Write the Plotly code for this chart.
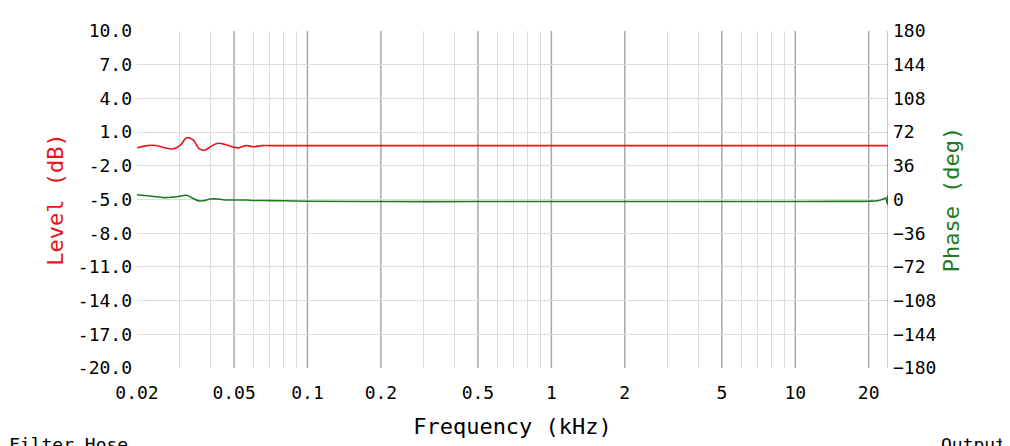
import plotly.graph_objects as go

# frequency in kHz
freq = [0.02, 0.022, 0.024, 0.026, 0.028, 0.030, 0.032, 0.034, 0.036, 0.038, 0.040, 0.043,
        0.046, 0.049, 0.052, 0.056, 0.060, 0.065, 0.070, 0.08, 0.1, 0.2, 0.5, 1, 2, 5, 10,
        15, 20, 22, 23, 23.5, 23.8, 23.9, 24.0]
level = [-0.4, -0.2, -0.2, -0.4, -0.5, -0.2, 0.5, 0.3, -0.5, -0.6, -0.3, 0.0,
         -0.1, -0.3, -0.4, -0.2, -0.3, -0.2, -0.2, -0.2, -0.2, -0.2, -0.2, -0.2, -0.2, -0.2, -0.2,
         -0.2, -0.2, -0.2, -0.2, -0.2, -0.2, -0.2, -0.2]
phase = [5.0, 4.0, 3.0, 2.0, 2.5, 3.5, 4.5, 1.0, -1.5, -1.0, 0.5, 0.5,
         -0.5, -0.5, -0.5, -0.5, -1.0, -1.0, -1.2, -1.4, -1.8, -2.2, -2.2, -2.2, -2.2, -2.2, -2.2,
         -2.0, -1.8, -1.0, 0.5, 1.5, -4.0, 4.0, -6.0]
# drop-outs at the band edge
edge_f = [24.0, 24.0]
edge_level = [-0.2, -20.0]
edge_phase = [0.0, 180.0]

major = [0.05, 0.1, 0.2, 0.5, 1, 2, 5, 10, 20]
tick_vals = [0.02, 0.05, 0.1, 0.2, 0.5, 1, 2, 5, 10, 20]
tick_text = ["0.02", "0.05", "0.1", "0.2", "0.5", "1", "2", "5", "10", "20"]
minor_vals = [m * d for d in (0.01, 0.1, 1, 10) for m in range(2, 10) if 0.02 <= m * d <= 24 and round(m * d, 3) not in major]
ylab = [10.0, 7.0, 4.0, 1.0, -2.0, -5.0, -8.0, -11.0, -14.0, -17.0, -20.0]
plab = [180, 144, 108, 72, 36, 0, -36, -72, -108, -144, -180]

font = "DejaVu Sans Mono"

fig = go.Figure()
fig.add_trace(go.Scatter(x=edge_f, y=edge_level, mode="lines", line=dict(color="rgba(230,80,80,0.5)", width=1.5)))
fig.add_trace(go.Scatter(x=edge_f, y=edge_phase, yaxis="y2", mode="lines", line=dict(color="rgba(60,150,60,0.5)", width=1.5)))
fig.add_trace(go.Scatter(x=freq, y=level, mode="lines", line=dict(color="#e8141c", width=1.6, shape="spline")))
fig.add_trace(go.Scatter(x=freq, y=phase, yaxis="y2", mode="lines", line=dict(color="#1f7a1f", width=1.6, shape="spline")))

for v in major:
    fig.add_shape(type="line", xref="x", yref="paper", x0=v, x1=v, y0=0, y1=1,
                  line=dict(color="#a8a8a8", width=1.5), layer="below")

fig.update_layout(
    width=1010, height=446, showlegend=False,
    margin=dict(l=129, r=130, t=21, b=86),
    plot_bgcolor="white", paper_bgcolor="white",
    font=dict(family=font, size=18, color="black"),
    xaxis=dict(type="log", range=[1.30103 - 3, 1.3802], tickvals=tick_vals, ticktext=tick_text,
               showgrid=False, ticks="", zeroline=False, ticklabelstandoff=12,
               minor=dict(tickvals=minor_vals, showgrid=True, gridcolor="#dcdcdc", gridwidth=1),
               title=dict(text="Frequency (kHz)", standoff=16)),
    yaxis=dict(range=[-20, 10], tickvals=ylab, ticktext=[f"{v:.1f}" for v in ylab],
               gridcolor="#dcdcdc", zeroline=False, ticks="", showline=False, ticklabelstandoff=4,
               title=dict(text="Level (dB)", font=dict(color="#e8141c"), standoff=8)),
    yaxis2=dict(range=[-180, 180], overlaying="y", side="right", tickvals=plab,
                showgrid=False, zeroline=False, ticks="", ticklabelstandoff=4,
                title=dict(text="Phase (deg)", font=dict(color="#1f7a1f"), standoff=8)),
    annotations=[
        dict(text="Filter Hose", xref="paper", yref="paper", x=-0.173, y=-0.19, xanchor="left",
             yanchor="top", showarrow=False, font=dict(size=18)),
        dict(text="Output", xref="paper", yref="paper", x=1.16, y=-0.19, xanchor="right",
             yanchor="top", showarrow=False, font=dict(size=18)),
    ],
)

fig.write_html("out.html")
